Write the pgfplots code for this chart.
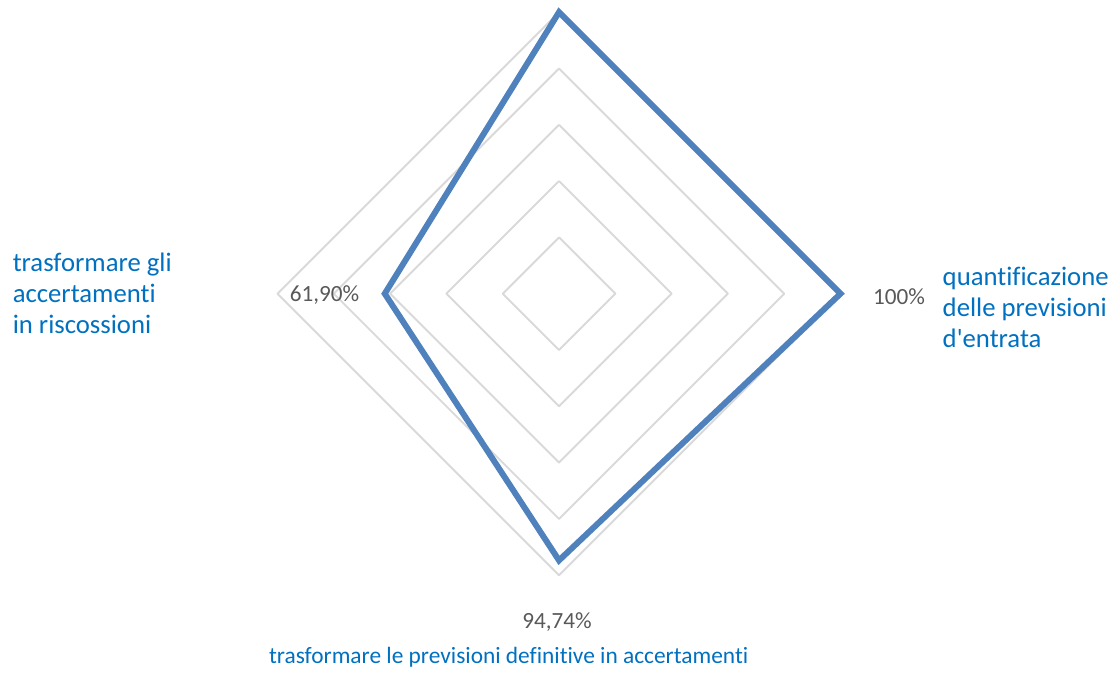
\documentclass[border=0pt]{standalone}
\usepackage{pgfplots}
\pgfplotsset{compat=1.18}
\usepackage{fontspec}
\setmainfont{Carlito}[Ligatures=NoCommon]
\definecolor{serie}{HTML}{4F81BD}
\definecolor{griglia}{HTML}{D9D9D9}
\definecolor{etich}{HTML}{0070C0}
\definecolor{valore}{HTML}{595959}
\begin{document}
\begin{tikzpicture}
\begin{axis}[
  scale only axis, width=11.15cm, height=6.74cm,
  xmin=-1.9858, xmax=1.9751, ymin=-1.351, ymax=1.0433,
  hide axis, clip=false,
]
\draw[draw=none] (rel axis cs:0,0) rectangle (rel axis cs:1,1);
% grid rings
\addplot[griglia, line width=0.55pt, line join=round] coordinates {(0,0.2) (0.2,0) (0,-0.2) (-0.2,0) (0,0.2)};
\addplot[griglia, line width=0.55pt, line join=round] coordinates {(0,0.4) (0.4,0) (0,-0.4) (-0.4,0) (0,0.4)};
\addplot[griglia, line width=0.55pt, line join=round] coordinates {(0,0.6) (0.6,0) (0,-0.6) (-0.6,0) (0,0.6)};
\addplot[griglia, line width=0.55pt, line join=round] coordinates {(0,0.8) (0.8,0) (0,-0.8) (-0.8,0) (0,0.8)};
\addplot[griglia, line width=0.55pt, line join=round] coordinates {(0,1) (1,0) (0,-1) (-1,0) (0,1)};
% data series
\addplot[serie, line width=1.7pt, line join=miter] coordinates {(0,1) (1,0) (0,-0.9474) (-0.619,0)} -- cycle;
% value labels
\node[valore, font=\fontsize{6.6}{8}\selectfont] at (axis cs:-0.833,-0.005) {61,90\%};
\node[valore, font=\fontsize{6.6}{8}\selectfont] at (axis cs:1.208,-0.012) {100\%};
\node[valore, font=\fontsize{6.6}{8}\selectfont] at (axis cs:-0.007,-1.166) {94,74\%};
% category labels
\node[etich, anchor=west, align=left, inner sep=0pt, font=\fontsize{7.6}{8.8}\selectfont] at (axis cs:-1.943,0.0) {trasformare gli\\accertamenti\\in riscossioni};
\node[etich, anchor=west, align=left, inner sep=0pt, font=\fontsize{7.6}{8.8}\selectfont] at (axis cs:1.3606,-0.05) {quantificazione\\delle previsioni\\d\textquotesingle entrata};
\node[etich, font=\fontsize{6.65}{8}\selectfont] at (axis cs:-0.179,-1.29) {trasformare le previsioni definitive in accertamenti};
\end{axis}
\end{tikzpicture}
\end{document}
